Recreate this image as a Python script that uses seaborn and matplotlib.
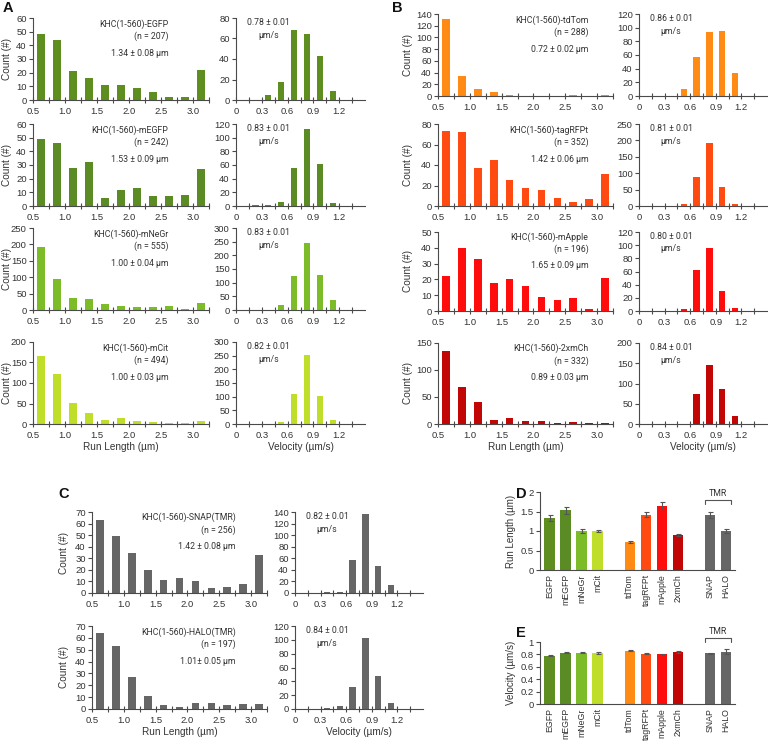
import numpy as np
import pandas as pd
import matplotlib
matplotlib.use("Agg")
import matplotlib.pyplot as plt
import seaborn as sns

# ---------------- data ----------------
run_bins = [0.625, 0.875, 1.125, 1.375, 1.625, 1.875, 2.125, 2.375, 2.625, 2.875, 3.125]
vel_bins = [0.075, 0.225, 0.375, 0.525, 0.675, 0.825, 0.975, 1.125, 1.275, 1.425]

constructs = ["EGFP", "mEGFP", "mNeGr", "mCit", "tdTom", "tagRFPt", "mApple", "2xmCh", "SNAP", "HALO"]
hist_titles = ["KHC(1-560)-EGFP", "KHC(1-560)-mEGFP", "KHC(1-560)-mNeGr", "KHC(1-560)-mCit",
               "KHC(1-560)-tdTom", "KHC(1-560)-tagRFPt", "KHC(1-560)-mApple", "KHC(1-560)-2xmCh",
               "KHC(1-560)-SNAP(TMR)", "KHC(1-560)-HALO(TMR)"]
n_counts = [207, 242, 555, 494, 288, 352, 196, 332, 256, 197]
run_text = ["1.34 ± 0.08 µm", "1.53 ± 0.09 µm", "1.00 ± 0.04 µm", "1.00 ± 0.03 µm",
            "0.72 ± 0.02 µm", "1.42 ± 0.06 µm", "1.65 ± 0.09 µm", "0.89 ± 0.03 µm",
            "1.42 ± 0.08 µm", "1.01± 0.05 µm"]
vel_text = ["0.78 ± 0.01", "0.83 ± 0.01", "0.83 ± 0.01", "0.82 ± 0.01",
            "0.86 ± 0.01", "0.81 ± 0.01", "0.80 ± 0.01", "0.84 ± 0.01",
            "0.82 ± 0.01", "0.84 ± 0.01"]

run_counts = {
    "EGFP":    [48, 44, 21, 16, 11, 11, 9, 6, 2, 2, 22],
    "mEGFP":   [49, 46, 28, 32, 6, 12, 13, 7, 7, 8, 27],
    "mNeGr":   [193, 95, 37, 33, 19, 13, 8, 8, 12, 4, 22],
    "mCit":    [165, 122, 51, 27, 10, 15, 8, 5, 3, 2, 8],
    "tdTom":   [132, 34, 12, 7, 2, 0, 0, 0, 2, 0, 1],
    "tagRFPt": [73, 72, 37, 45, 25, 18, 16, 8, 4, 7, 31],
    "mApple":  [22, 40, 33, 18, 20, 16, 9, 7, 8, 1, 21],
    "2xmCh":   [135, 69, 41, 8, 11, 6, 5, 2, 4, 2, 1],
    "SNAP":    [63, 49, 35, 20, 11, 13, 10, 4, 5, 8, 33],
    "HALO":    [64, 53, 27, 11, 3, 2, 5, 5, 3, 4, 4],
}
vel_counts = {
    "EGFP":    [0, 0, 5, 18, 68, 64, 43, 9, 0, 0],
    "mEGFP":   [0, 1, 2, 6, 55, 113, 61, 4, 0, 0],
    "mNeGr":   [0, 0, 0, 18, 124, 245, 127, 36, 0, 0],
    "mCit":    [0, 0, 0, 8, 110, 252, 102, 15, 0, 0],
    "tdTom":   [0, 0, 0, 10, 57, 93, 95, 33, 0, 0],
    "tagRFPt": [0, 0, 1, 5, 87, 193, 57, 5, 0, 0],
    "mApple":  [0, 0, 0, 3, 62, 96, 31, 4, 0, 0],
    "2xmCh":   [0, 0, 0, 1, 75, 145, 87, 20, 0, 0],
    "SNAP":    [0, 0, 1, 2, 57, 136, 47, 13, 0, 0],
    "HALO":    [0, 0, 1, 4, 32, 103, 48, 8, 0, 0],
}
run_ylim = [(60, 10), (60, 10), (250, 50), (200, 50), (140, 20), (80, 20), (50, 10), (150, 50), (70, 10), (70, 10)]
vel_ylim = [(80, 20), (120, 20), (300, 50), (300, 50), (120, 20), (250, 50), (120, 20), (200, 50), (140, 20), (120, 20)]

run_mean = [1.34, 1.53, 1.00, 1.00, 0.72, 1.42, 1.65, 0.89, 1.42, 1.01]
run_err = [0.08, 0.09, 0.04, 0.03, 0.02, 0.06, 0.09, 0.03, 0.08, 0.05]
vel_mean = [0.78, 0.83, 0.83, 0.82, 0.86, 0.81, 0.80, 0.84, 0.82, 0.84]
vel_err = [0.01, 0.01, 0.01, 0.015, 0.01, 0.01, 0.01, 0.01, 0.01, 0.04]

palette = {"EGFP": "#5e8e20", "mEGFP": "#5b8b24", "mNeGr": "#7cbc28", "mCit": "#bfde2a",
           "tdTom": "#ff8a14", "tagRFPt": "#ff4a12", "mApple": "#ff0c0c", "2xmCh": "#c20606",
           "SNAP": "#666666", "HALO": "#666666"}

# ---------------- layout (pixels) ----------------
W, H = 768, 745
bar_pos = [0, 1, 2, 3, 5, 6, 7, 8, 10, 11]
run_x = {"A": (33, 209), "B": (438, 613), "C": (92, 267)}
vel_x = {"A": (236, 365), "B": (639, 767), "C": (295, 423)}
ylabel_right = {"A": 12, "B": 413, "C": 69}
rows = {"A": [(18, 100), (124, 206), (228, 310), (342, 424)],
        "B": [(14, 96), (124, 206), (232, 311), (343, 424)],
        "C": [(512, 593), (626, 709)]}
panel_members = {"A": [0, 1, 2, 3], "B": [4, 5, 6, 7], "C": [8, 9]}
run_txt_x = {"A": 0.77, "B": 0.86, "C": 0.82}

sns.set_theme(style="ticks")
plt.rcParams['font.family'] = ['Liberation Sans', 'DejaVu Sans']
AX = "#4a4a4a"
TXT = "#333333"
plt.rcParams.update({"axes.edgecolor": AX, "xtick.color": AX, "ytick.color": AX,
                     "xtick.labelcolor": TXT, "ytick.labelcolor": TXT,
                     "axes.linewidth": 0.8, "xtick.labelsize": 6.8, "ytick.labelsize": 6.8})

fig = plt.figure(figsize=(W / 100, H / 100), dpi=100)


def px_axes(l, t, r, b):
    return fig.add_axes([l / W, 1 - b / H, (r - l) / W, (b - t) / H])


ANN = dict(fontsize=6.3, color=TXT, family=['Roboto', 'DejaVu Sans'])


def style_hist(ax, ymax, ystep):
    sns.despine(ax=ax)
    ax.set_ylim(0, ymax)
    ax.set_yticks(np.arange(0, ymax + 0.1, ystep))
    ax.tick_params(axis="y", direction="out", length=3, width=0.8, pad=1.5)
    ax.tick_params(axis="x", which="both", direction="inout", length=4, width=0.8, pad=3)
    ax.set_xlabel("")
    ax.set_ylabel("")


for panel, members in panel_members.items():
    x0, x1 = run_x[panel]
    for r, idx in enumerate(members):
        name = constructs[idx]
        t, b = rows[panel][r]
        color = palette[name]
        # run length histogram
        ax = px_axes(x0, t, x1, b)
        df = pd.DataFrame({"x": run_bins, "y": run_counts[name]})
        sns.barplot(data=df, x="x", y="y", native_scale=True, width=0.48, color=color,
                    saturation=1, errorbar=None, linewidth=0, ax=ax)
        style_hist(ax, *run_ylim[idx])
        ax.set_xlim(0.5, 3.25)
        ax.set_xticks([0.5, 1.0, 1.5, 2.0, 2.5, 3.0])
        ax.set_xticklabels(["0.5", "1.0", "1.5", "2.0", "2.5", "3.0"])
        ax.set_xticks(np.arange(0.75, 3.3, 0.5), minor=True)
        ax.set_ylabel("Count (#)", fontsize=7.2, color=TXT)
        ax.yaxis.set_label_coords((ylabel_right[panel] - x0) / (x1 - x0), 0.5)
        tx = run_txt_x[panel]
        ax.text(tx, 0.93, hist_titles[idx], transform=ax.transAxes, ha="right", va="center", **ANN)
        ax.text(tx, 0.78, f"(n = {n_counts[idx]})", transform=ax.transAxes, ha="right", va="center", **ANN)
        ax.text(tx, 0.57, run_text[idx], transform=ax.transAxes, ha="right", va="center", **ANN)
        if r == len(members) - 1:
            ax.set_xlabel("Run Length (µm)", fontsize=7.2, color=TXT, labelpad=1.5)
        # velocity histogram
        ax = px_axes(vel_x[panel][0], t, vel_x[panel][1], b)
        df = pd.DataFrame({"x": vel_bins, "y": vel_counts[name]})
        sns.barplot(data=df, x="x", y="y", native_scale=True, width=0.5, color=color,
                    saturation=1, errorbar=None, linewidth=0, ax=ax)
        style_hist(ax, *vel_ylim[idx])
        ax.set_xlim(0, 1.5)
        ax.set_xticks([0, 0.3, 0.6, 0.9, 1.2])
        ax.set_xticklabels(["0", "0.3", "0.6", "0.9", "1.2"])
        ax.set_xticks(np.arange(0.15, 1.51, 0.3), minor=True)
        ax.text(0.25, 0.94, vel_text[idx], transform=ax.transAxes, ha="center", va="center", **ANN)
        ax.text(0.25, 0.79, "µm/s", transform=ax.transAxes, ha="center", va="center", **ANN)
        if r == len(members) - 1:
            ax.set_xlabel("Velocity (µm/s)", fontsize=7.2, color=TXT, labelpad=1.5)


def summary(ax, vals, errs, ymax, yticks, yticklabels, ylabel, br_low, br_top, tmr_y):
    df = pd.DataFrame({"pos": bar_pos, "name": constructs, "val": vals})
    sns.barplot(data=df, x="pos", y="val", hue="name", palette=palette, native_scale=True,
                width=0.66, saturation=1, errorbar=None, legend=False, dodge=False,
                linewidth=0, ax=ax)
    ax.errorbar(bar_pos, vals, yerr=errs, fmt="none", ecolor="#555555", elinewidth=0.8,
                capsize=1.8, capthick=0.8)
    sns.despine(ax=ax)
    ax.set_xlim(-0.6, 11.55)
    ax.set_ylim(0, ymax)
    ax.set_yticks(yticks)
    ax.set_yticklabels(yticklabels)
    ax.set_xticks(bar_pos)
    ax.set_xticklabels(constructs, rotation=90, fontsize=6.3, color=TXT)
    ax.tick_params(axis="x", length=0, pad=3)
    ax.tick_params(axis="y", direction="out", length=3, width=0.8, pad=1.5)
    ax.set_xlabel("")
    ax.set_ylabel(ylabel, fontsize=7.0, color=TXT, labelpad=3)
    ax.plot([9.7, 9.7, 11.3, 11.3], [br_low, br_top, br_top, br_low], color="#555555",
            lw=0.8, clip_on=False)
    ax.text(10.5, tmr_y, "TMR", ha="center", va="bottom", **ANN)


axD = px_axes(540, 492, 735, 570)
summary(axD, run_mean, run_err, 2.0, [0, 0.5, 1, 1.5, 2], ["0", "0.5", "1", "1.5", "2"],
        "Run Length (µm)", 1.70, 1.80, 1.84)
axE = px_axes(540, 642, 735, 704)
summary(axE, vel_mean, vel_err, 1.0, [0, 0.2, 0.4, 0.6, 0.8, 1.0],
        ["0", "0.2", "0.4", "0.6", "0.8", "1"], "Velocity (µm/s)", 1.0, 1.07, 1.09)

for letter, (x, y) in {"A": (3, 8), "B": (392, 8), "C": (58, 494), "D": (516, 494), "E": (516, 633)}.items():
    fig.text(x / W, 1 - y / H, letter, fontsize=10.5, fontweight="bold", ha="left", va="center",
             color="#111111", family=['Liberation Sans', 'DejaVu Sans'])

fig.savefig("out.png", dpi=100)
